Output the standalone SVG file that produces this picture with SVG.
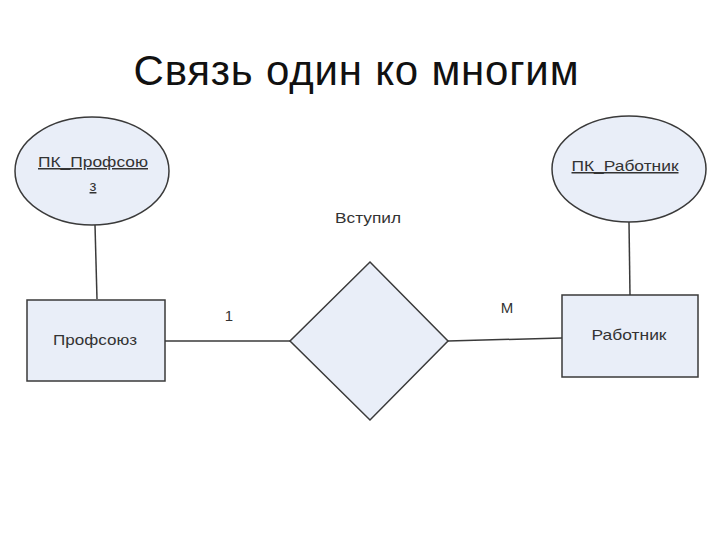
<svg xmlns="http://www.w3.org/2000/svg" width="720" height="540" viewBox="0 0 720 540">
<style>
.shape{fill:#e9eef8;stroke:#3a3a3a;stroke-width:1.5}
.lbl{font-family:"Liberation Sans",Arial,sans-serif;font-size:15px;fill:#333;text-anchor:middle}
.key{text-decoration:underline}
.conn line{stroke:#3a3a3a;stroke-width:1.5}
</style>
<rect width="720" height="540" fill="#fff"/>
<text x="356" y="85" font-family="'Liberation Sans',Arial,sans-serif" font-size="42" fill="#111" text-anchor="middle" textLength="445" lengthAdjust="spacing">Связь один ко многим</text>
<g class="conn">
<line x1="95" y1="225" x2="97" y2="299"/>
<line x1="629" y1="222" x2="630" y2="295"/>
<line x1="165" y1="341" x2="290" y2="341"/>
<line x1="448" y1="341" x2="562" y2="338"/>
</g>
<g id="pk_profsoyuz">
<ellipse class="shape" cx="92" cy="171" rx="77" ry="54"/>
<text class="lbl key" x="93" y="167" textLength="110" lengthAdjust="spacingAndGlyphs">ПК_Профсою</text>
<text class="lbl key" x="93" y="191">з</text>
</g>
<g id="pk_rabotnik">
<ellipse class="shape" cx="629" cy="169" rx="77" ry="53"/>
<text class="lbl key" x="625" y="171" textLength="107" lengthAdjust="spacingAndGlyphs">ПК_Работник</text>
</g>
<g id="profsoyuz">
<rect class="shape" x="27" y="300" width="138" height="81"/>
<text class="lbl" x="95" y="345" textLength="84" lengthAdjust="spacingAndGlyphs">Профсоюз</text>
</g>
<g id="rabotnik">
<rect class="shape" x="562" y="295" width="136" height="82"/>
<text class="lbl" x="629" y="340" textLength="75" lengthAdjust="spacingAndGlyphs">Работник</text>
</g>
<g id="vstupil">
<polygon class="shape" points="370,262 448,341 370,420 290,341"/>
<text class="lbl" x="368" y="223" textLength="66" lengthAdjust="spacingAndGlyphs">Вступил</text>
</g>
<text class="lbl" x="229" y="321">1</text>
<text class="lbl" x="507" y="313">М</text>
</svg>
